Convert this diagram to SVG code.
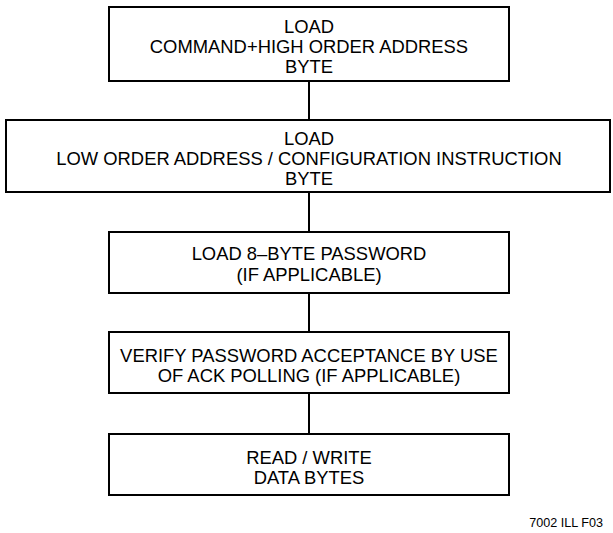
<svg xmlns="http://www.w3.org/2000/svg" width="613" height="533" viewBox="0 0 613 533">
<style>
.box{fill:#fff;stroke:#000;stroke-width:2}
.lbl{font-family:"Liberation Sans",Arial,sans-serif;font-size:18.4px;fill:#000;text-anchor:middle}
.conn{stroke:#000;stroke-width:2;fill:none}
.note{font-family:"Liberation Sans",Arial,sans-serif;font-size:12.6px;fill:#000;text-anchor:end}
</style>
<rect width="613" height="533" fill="#fff"/>
<g id="connectors">
<line class="conn" x1="309" y1="81" x2="309" y2="120"/>
<line class="conn" x1="309" y1="192" x2="309" y2="232"/>
<line class="conn" x1="309" y1="293" x2="309" y2="332"/>
<line class="conn" x1="309" y1="393" x2="309" y2="434"/>
</g>
<g id="n1">
<rect class="box" x="109" y="7" width="400" height="74"/>
<text class="lbl" x="309" y="32.6">LOAD</text>
<text class="lbl" x="309" y="52.6">COMMAND+HIGH ORDER ADDRESS</text>
<text class="lbl" x="309" y="72.6">BYTE</text>
</g>
<g id="n2">
<rect class="box" x="6" y="120" width="604" height="72"/>
<text class="lbl" x="309" y="145">LOAD</text>
<text class="lbl" x="309" y="165">LOW ORDER ADDRESS / CONFIGURATION INSTRUCTION</text>
<text class="lbl" x="309" y="185">BYTE</text>
</g>
<g id="n3">
<rect class="box" x="109" y="232" width="400" height="61"/>
<text class="lbl" x="309" y="260">LOAD 8–BYTE PASSWORD</text>
<text class="lbl" x="309" y="281">(IF APPLICABLE)</text>
</g>
<g id="n4">
<rect class="box" x="109" y="332" width="400" height="61"/>
<text class="lbl" x="309" y="362">VERIFY PASSWORD ACCEPTANCE BY USE</text>
<text class="lbl" x="309" y="382">OF ACK POLLING (IF APPLICABLE)</text>
</g>
<g id="n5">
<rect class="box" x="109" y="434" width="400" height="61"/>
<text class="lbl" x="309" y="464">READ / WRITE</text>
<text class="lbl" x="309" y="484">DATA BYTES</text>
</g>
<text class="note" x="603" y="527">7002 ILL F03</text>
</svg>
